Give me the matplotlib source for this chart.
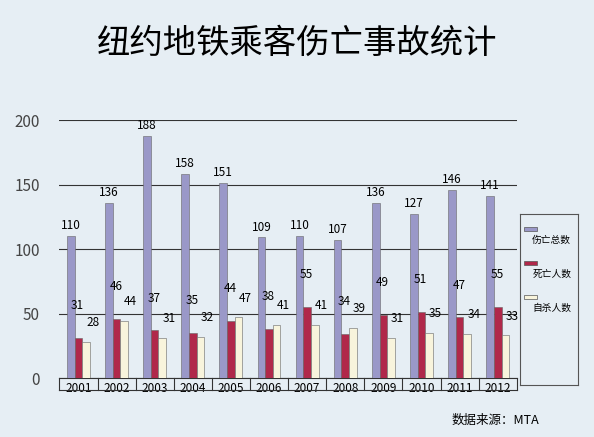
import matplotlib.pyplot as plt
import numpy as np
from matplotlib.patches import Rectangle

plt.rcParams['font.family'] = ['Noto Sans CJK SC', 'DejaVu Sans']

years = ["2001", "2002", "2003", "2004", "2005", "2006",
         "2007", "2008", "2009", "2010", "2011", "2012"]
total = [110, 136, 188, 158, 151, 109, 110, 107, 136, 127, 146, 141]
deaths = [31, 46, 37, 35, 44, 38, 55, 34, 49, 51, 47, 55]
suicides = [28, 44, 31, 32, 47, 41, 41, 39, 31, 35, 34, 33]
legend_labels = ["伤亡总数", "死亡人数", "自杀人数"]
colors = ["#9a98c8", "#b0284a", "#f8f4dc"]

bg = "#e6eef4"
fig = plt.figure(figsize=(5.94, 4.37), dpi=100, facecolor=bg)
ax = fig.add_axes([0.1, 0.135, 0.77, 0.59], facecolor=bg)

x = np.arange(len(years))
w = 0.2
series = [total, deaths, suicides]
offs = [-w, 0, w]
for vals, off, c in zip(series, offs, colors):
    ax.bar(x + off, vals, w, color=c, edgecolor="#666666", linewidth=0.4, zorder=3)

for i in range(len(years)):
    ax.text(x[i] - w, total[i] + 3, str(total[i]), ha="center", va="bottom", fontsize=8.5, zorder=4)
    ax.text(x[i] - 0.02, deaths[i] + 20, str(deaths[i]), ha="center", va="bottom", fontsize=8.5, zorder=4)
    ax.text(x[i] + 0.37, suicides[i] + 10, str(suicides[i]), ha="center", va="bottom", fontsize=8.5, zorder=4)

ax.set_ylim(0, 200)
ax.set_xlim(-0.5, len(years) - 0.5)
ax.set_yticks([0, 50, 100, 150, 200])
ax.tick_params(axis="y", length=0, labelsize=11, colors="#444444", pad=14)
ax.yaxis.grid(True, color="#333333", linewidth=0.8, zorder=0)
ax.set_xticks(x)
ax.set_xticklabels(years, fontsize=8.5)
ax.tick_params(axis="x", length=0, pad=3)
for s in ["top", "right", "left"]:
    ax.spines[s].set_visible(False)
ax.spines["bottom"].set_color("#333333")
for i in range(len(years) + 1):
    ax.plot([i - 0.5, i - 0.5], [0, -9], color="#333333", lw=0.8, clip_on=False)
ax.plot([-0.5, len(years) - 0.5], [-9, -9], color="#333333", lw=0.8, clip_on=False)

fig.text(0.5, 0.9, "纽约地铁乘客伤亡事故统计", ha="center", va="center", fontsize=24)

# legend box
lax = fig.add_axes([0.875, 0.12, 0.098, 0.39], facecolor=bg)
lax.set_xlim(0, 1)
lax.set_ylim(0, 1)
lax.set_xticks([])
lax.set_yticks([])
for s in lax.spines.values():
    s.set_color("#555555")
for j, (lab, c) in enumerate(zip(legend_labels, colors)):
    y = 0.9 - j * 0.2
    lax.add_patch(Rectangle((0.08, y), 0.22, 0.025, facecolor=c, edgecolor="#555555", lw=0.5))
    lax.text(0.55, y - 0.05, lab, ha="center", va="center", fontsize=7)

fig.text(0.76, 0.03, "数据来源：MTA", fontsize=9)

fig.savefig("out.png", dpi=100, facecolor=bg)
